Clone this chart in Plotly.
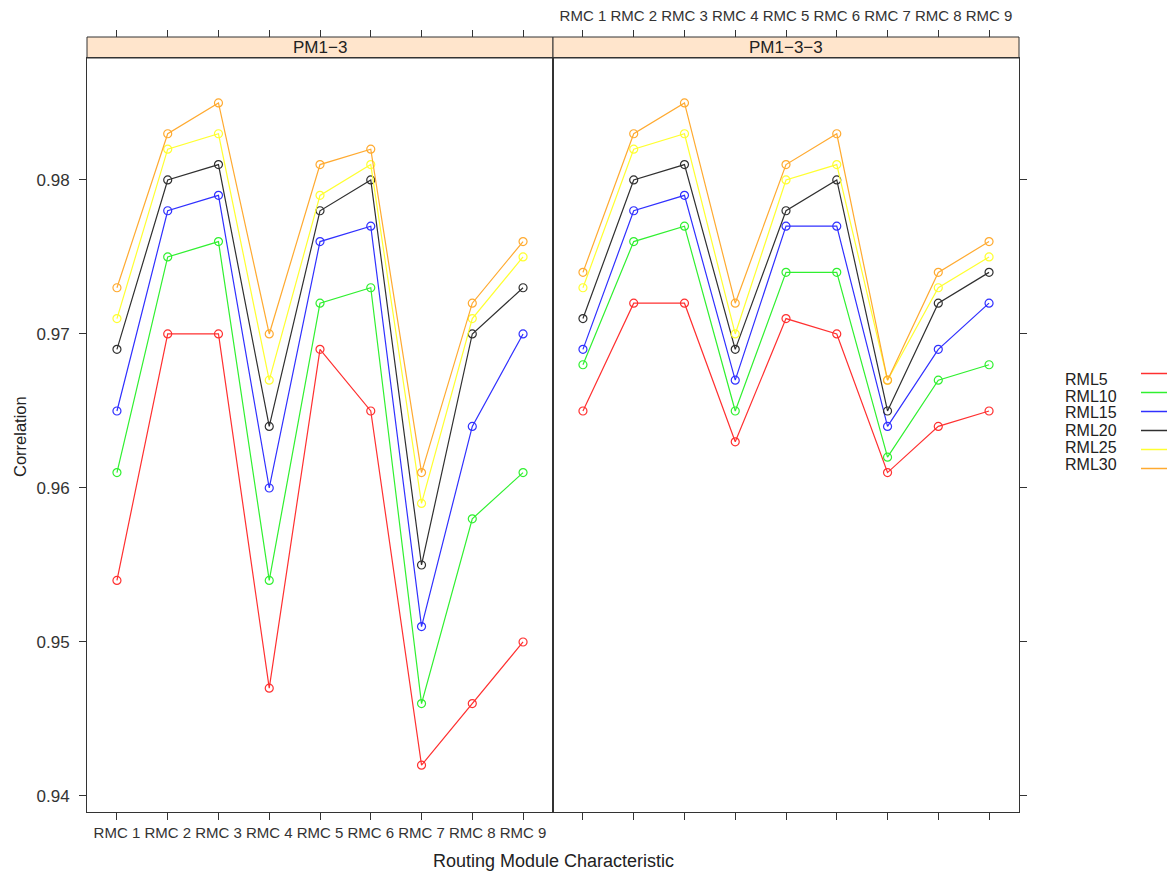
import plotly.graph_objects as go

categories = ["RMC 1", "RMC 2", "RMC 3", "RMC 4", "RMC 5", "RMC 6", "RMC 7", "RMC 8", "RMC 9"]
series_names = ["RML5", "RML10", "RML15", "RML20", "RML25", "RML30"]
panel_names = ["PM1\u22123", "PM1\u22123\u22123"]

pm13_rml5 = [0.954, 0.970, 0.970, 0.947, 0.969, 0.965, 0.942, 0.946, 0.950]
pm13_rml10 = [0.961, 0.975, 0.976, 0.954, 0.972, 0.973, 0.946, 0.958, 0.961]
pm13_rml15 = [0.965, 0.978, 0.979, 0.960, 0.976, 0.977, 0.951, 0.964, 0.970]
pm13_rml20 = [0.969, 0.980, 0.981, 0.964, 0.978, 0.980, 0.955, 0.970, 0.973]
pm13_rml25 = [0.971, 0.982, 0.983, 0.967, 0.979, 0.981, 0.959, 0.971, 0.975]
pm13_rml30 = [0.973, 0.983, 0.985, 0.970, 0.981, 0.982, 0.961, 0.972, 0.976]

pm133_rml5 = [0.965, 0.972, 0.972, 0.963, 0.971, 0.970, 0.961, 0.964, 0.965]
pm133_rml10 = [0.968, 0.976, 0.977, 0.965, 0.974, 0.974, 0.962, 0.967, 0.968]
pm133_rml15 = [0.969, 0.978, 0.979, 0.967, 0.977, 0.977, 0.964, 0.969, 0.972]
pm133_rml20 = [0.971, 0.980, 0.981, 0.969, 0.978, 0.980, 0.965, 0.972, 0.974]
pm133_rml25 = [0.973, 0.982, 0.983, 0.970, 0.980, 0.981, 0.967, 0.973, 0.975]
pm133_rml30 = [0.974, 0.983, 0.985, 0.972, 0.981, 0.983, 0.967, 0.974, 0.976]

y_ticks = [0.94, 0.95, 0.96, 0.97, 0.98]
colors = ["#FF3030", "#30F030", "#3030FF", "#303030", "#FFFF30", "#FFAA30"]

panel1 = [pm13_rml5, pm13_rml10, pm13_rml15, pm13_rml20, pm13_rml25, pm13_rml30]
panel2 = [pm133_rml5, pm133_rml10, pm133_rml15, pm133_rml20, pm133_rml25, pm133_rml30]

FONT = "Liberation Sans, Arial, sans-serif"
AX = "#333333"
OFF = 8  # page body margin
W, H = 1175, 878
ML, MT = 87 - OFF, 37 - OFF
MR, MB = W - (1019 - OFF), H - (812 - OFF)
PW, PH = W - ML - MR, H - MT - MB


def px(xp):
    return (xp - OFF - ML) / PW


def py(yp):
    return (H - MB - (yp - OFF)) / PH


fig = go.Figure()
for vals, xa, ya in [(panel1, "x", "y"), (panel2, "x2", "y2")]:
    for name, v, c in zip(series_names, vals, colors):
        fig.add_trace(go.Scatter(
            x=categories, y=v, xaxis=xa, yaxis=ya, name=name, showlegend=False,
            mode="lines+markers", line=dict(color=c, width=1.2),
            marker=dict(symbol="circle-open", size=8, color=c, line=dict(width=1.2)),
        ))
# invisible traces for the top tick axes
for xa, ya in [("x3", "y"), ("x4", "y2")]:
    fig.add_trace(go.Scatter(x=categories, y=[None] * len(categories), xaxis=xa, yaxis=ya,
                             showlegend=False, hoverinfo="skip", mode="lines"))
# legend keys (lines only)
for name, c in zip(series_names, colors):
    fig.add_trace(go.Scatter(x=[None], y=[None], mode="lines", name=" ",
                             line=dict(color=c, width=1.5), showlegend=True))

ydom = [0, py(58)]
yr = [0.93896, 0.98792]
xr = [-0.59, 8.59]

common_x = dict(type="category", range=xr, ticks="outside", ticklen=7, tickcolor=AX,
                tickfont=dict(family=FONT, size=15, color=AX), showgrid=False, zeroline=False,
                automargin=False)
common_y = dict(range=yr, tickvals=y_ticks, ticks="outside", ticklen=7, tickcolor=AX,
                showgrid=False, zeroline=False, domain=ydom, automargin=False,
                showline=True, linecolor=AX, linewidth=1, mirror=True,
                tickfont=dict(family=FONT, size=17, color=AX))

fig.update_layout(
    width=W, height=H,
    margin=dict(l=ML, r=MR, t=MT, b=MB, autoexpand=False),
    paper_bgcolor="white", plot_bgcolor="white",
    font=dict(family=FONT, color=AX),
    xaxis=dict(domain=[0, 0.5], anchor="y", showline=True, linecolor=AX, mirror=True, **common_x),
    xaxis2=dict(domain=[0.5, 1], anchor="y2", showline=True, linecolor=AX, mirror=True,
                showticklabels=False, **common_x),
    xaxis3=dict(overlaying="x", anchor="free", position=1, side="top", showline=False,
                showticklabels=False, **common_x),
    xaxis4=dict(overlaying="x2", anchor="free", position=1, side="top", showline=False,
                showticklabels=True, ticklabelstandoff=3, **common_x),
    yaxis=dict(anchor="x", side="left", tickformat=".2f", ticklabelstandoff=6, **common_y),
    yaxis2=dict(anchor="x2", side="right", matches="y", showticklabels=False, **common_y),
    showlegend=True,
    legend=dict(x=px(1136), xanchor="left", y=py(359), yanchor="top", bgcolor="rgba(0,0,0,0)",
                font=dict(family=FONT, size=10), itemwidth=30, tracegroupgap=0),
)

# strips
for i, pname in enumerate(panel_names):
    x0, x1 = i * 0.5, (i + 1) * 0.5
    fig.add_shape(type="rect", xref="paper", yref="paper", x0=x0, x1=x1, y0=ydom[1], y1=1,
                  fillcolor="#FFE5CC", line=dict(color=AX, width=1), layer="below")
    fig.add_annotation(x=(x0 + x1) / 2, y=(ydom[1] + 1) / 2, xref="paper", yref="paper",
                       xanchor="center", yanchor="middle", text=pname, showarrow=False,
                       font=dict(family=FONT, size=17, color="#222"))

# legend labels
for i, name in enumerate(series_names):
    fig.add_annotation(x=px(1063), y=py(379 + 17 * i), xref="paper", yref="paper", text=name,
                       showarrow=False, xanchor="left", yanchor="middle",
                       font=dict(family=FONT, size=16, color="#222"))

fig.add_annotation(text="Correlation", textangle=-90, xref="paper", yref="paper",
                   xanchor="center", yanchor="middle",
                   x=px(20), y=py(437), showarrow=False, font=dict(family=FONT, size=16.5, color="#222"))
fig.add_annotation(text="Routing Module Characteristic", xref="paper", yref="paper",
                   xanchor="center", yanchor="middle",
                   x=px(553), y=py(861), showarrow=False, font=dict(family=FONT, size=18, color="#222"))

fig.write_html("out.html")
